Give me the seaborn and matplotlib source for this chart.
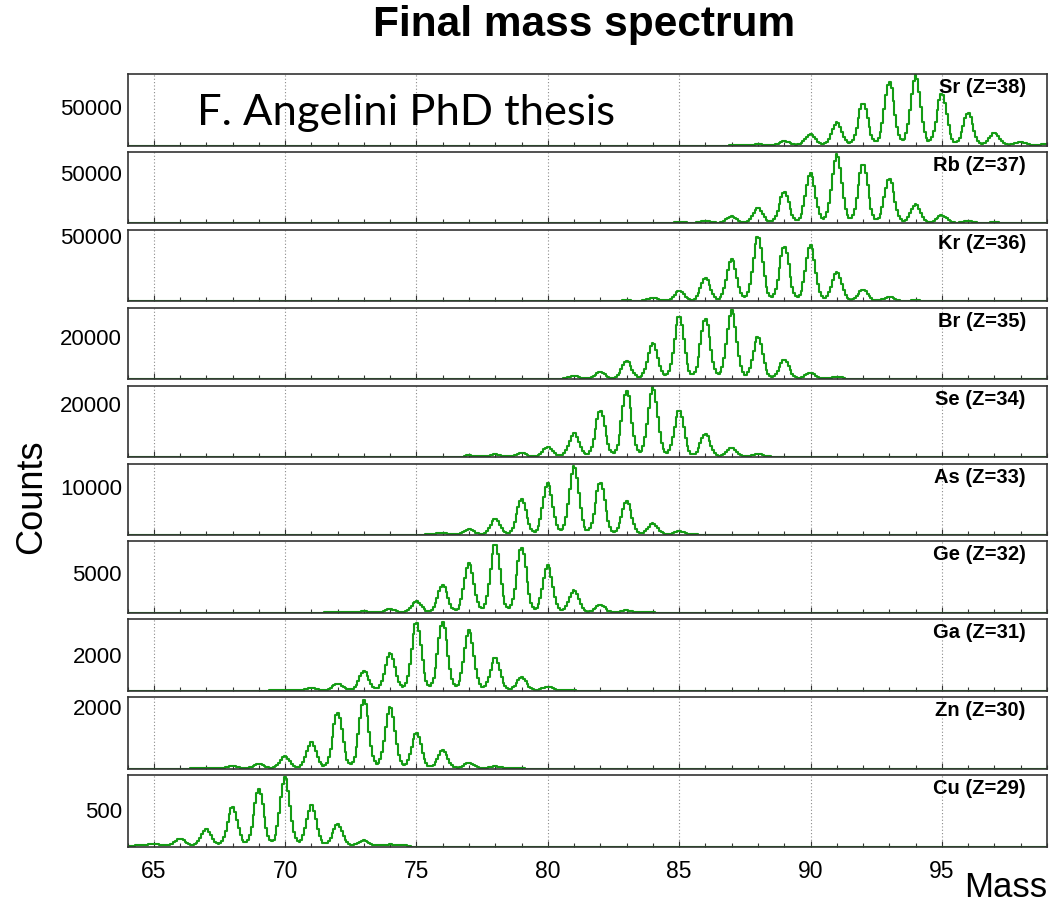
import numpy as np
import pandas as pd
import matplotlib
matplotlib.use("Agg")
import matplotlib.pyplot as plt
from matplotlib.ticker import MultipleLocator
import seaborn as sns

# ---------------- data ----------------
elements = ["Sr", "Rb", "Kr", "Br", "Se", "As", "Ge", "Ga", "Zn", "Cu"]
atomic_numbers = [38, 37, 36, 35, 34, 33, 32, 31, 30, 29]
first_mass = [88, 85, 83, 81, 77, 76, 73, 71, 68, 65]

sr_peaks = [900, 5000, 14100, 29500, 55000, 82300, 91400, 67300, 42000, 16000, 4000, 1200]
rb_peaks = [1300, 2300, 6700, 14700, 30700, 49500, 68500, 58500, 44000, 18300, 7500, 2000, 700]
kr_peaks = [500, 2600, 7700, 17300, 32200, 49500, 41800, 43000, 22400, 8800, 3100, 500]
br_peaks = [1300, 3300, 8500, 17200, 29900, 28500, 32500, 19800, 9000, 2900, 1000]
se_peaks = [500, 900, 1300, 3700, 9000, 17400, 24900, 26200, 17400, 8600, 3300, 1000]
as_peaks = [400, 1100, 3200, 7350, 10800, 14300, 10900, 6950, 2350, 700]
ge_peaks = [150, 430, 1400, 3460, 6240, 8670, 8160, 5900, 2820, 940, 260]
ga_peaks = [150, 380, 1070, 2120, 3830, 3830, 3390, 1820, 730, 210]
zn_peaks = [80, 150, 395, 860, 1810, 2220, 2020, 1160, 580, 180, 65]
cu_peaks = [25, 90, 230, 530, 775, 950, 565, 290, 70, 15]
peak_heights = [sr_peaks, rb_peaks, kr_peaks, br_peaks, se_peaks,
                as_peaks, ge_peaks, ga_peaks, zn_peaks, cu_peaks]

tail_start = [86.9, 84.8, 82.2, 79.4, 76.8, 74.5, 71.5, 69.4, 66.4, 64.0]
tail_end = [99.0, 97.5, 94.3, 91.3, 89.1, 86.1, 84.1, 81.1, 79.1, 74.8]
tail_level = [700, 500, 300, 250, 200, 100, 60, 30, 15, 15]

y_max = [93500, 70800, 54600, 34000, 27000, 14900, 9000, 4030, 2330, 985]
y_tick = [50000, 50000, 50000, 20000, 20000, 10000, 5000, 2000, 2000, 500]
x_ticks = [65, 70, 75, 80, 85, 90, 95]

# detector line shape (mass units): narrow core + small broad component
core_sigma = 0.18
broad_sigma = 0.40
broad_fraction = 0.03
bin_width = 0.07
mass_lo, mass_hi = 64.0, 99.0

# ---------------- style ----------------
sns.set_theme(style="white")
plt.rcParams["font.family"] = ["Liberation Sans", "DejaVu Sans"]
plt.rcParams["text.color"] = "black"
plt.rcParams["xtick.color"] = "black"
plt.rcParams["ytick.color"] = "black"
GREEN = "#149c14"
FRAME = "#333333"

W, H = 1053, 905
fig = plt.figure(figsize=(W / 100, H / 100), dpi=100)

left_px, right_px = 127.5, 1047
top0_px, pitch_px, height_px = 74, 77.9, 71.5

n_bins = int(round((mass_hi - mass_lo) / bin_width))
centers = mass_lo + bin_width * (np.arange(n_bins) + 0.5)

for i, el in enumerate(elements):
    top = top0_px + i * pitch_px
    ax = fig.add_axes([left_px / W, 1 - (top + height_px) / H,
                       (right_px - left_px) / W, height_px / H])

    masses = first_mass[i] + np.arange(len(peak_heights[i]))
    counts = np.zeros_like(centers)
    for m, a in zip(masses, peak_heights[i]):
        d = centers - m
        counts += a * ((1 - broad_fraction) * np.exp(-0.5 * (d / core_sigma) ** 2)
                       + broad_fraction * np.exp(-0.5 * (d / broad_sigma) ** 2))
    inside = (centers >= tail_start[i]) & (centers <= tail_end[i])
    counts = np.where(inside, counts + tail_level[i], 0.0)

    df = pd.DataFrame({"mass": centers, "counts": counts})
    sns.histplot(data=df, x="mass", weights="counts", binwidth=bin_width,
                 binrange=(mass_lo, mass_hi), element="step", fill=False,
                 color=GREEN, linewidth=1.5, ax=ax)

    ax.set_xlim(mass_lo, mass_hi)
    ax.set_ylim(0, y_max[i])
    ax.set_xlabel("")
    ax.set_ylabel("")

    ax.set_xticks(x_ticks)
    ax.xaxis.set_minor_locator(MultipleLocator(1))
    ax.set_yticks([y_tick[i]])
    ax.set_yticklabels([str(y_tick[i])])
    ax.tick_params(axis="y", which="major", direction="in", length=19.5,
                   width=1.0, color="#555555", labelcolor="black",
                   labelsize=16, pad=4)
    ax.tick_params(axis="x", which="both", direction="in", bottom=True,
                   top=False, color="#333333", labelcolor="black", width=0.8)
    ax.tick_params(axis="x", which="major", length=4, labelsize=16.5, pad=10)
    ax.tick_params(axis="x", which="minor", length=3)
    if i < len(elements) - 1:
        ax.tick_params(axis="x", which="both", labelbottom=False)

    ax.grid(False)
    ax.grid(axis="x", which="major", linestyle=(0, (1, 2)), color="#8a8a8a",
            linewidth=0.8)
    ax.set_axisbelow(True)
    for sp in ax.spines.values():
        sp.set_color(FRAME)
        sp.set_linewidth(1.2)

    ax.text(0.977, 1 - 4 / height_px, f"{el} (Z={atomic_numbers[i]})",
            transform=ax.transAxes, ha="right", va="top",
            fontsize=14.5, fontweight="bold", color="black")

fig.text(584 / W, 1 - 25 / H, "Final mass spectrum", ha="center",
         va="center", fontsize=30.5, fontweight="bold", color="black")
fig.text(32 / W, 1 - 497 / H, "Counts", rotation=90, ha="center",
         va="center", fontsize=26, color="black")
fig.text(1047 / W, 1 - 897 / H, "Mass", ha="right", va="baseline",
         fontsize=25, color="black")
fig.text(197 / W, 1 - 125 / H, "F. Angelini PhD thesis", ha="left",
         va="baseline", fontsize=31.3, color="black",
         family=["Lato", "DejaVu Sans"])

fig.savefig("out.png", dpi=100)
